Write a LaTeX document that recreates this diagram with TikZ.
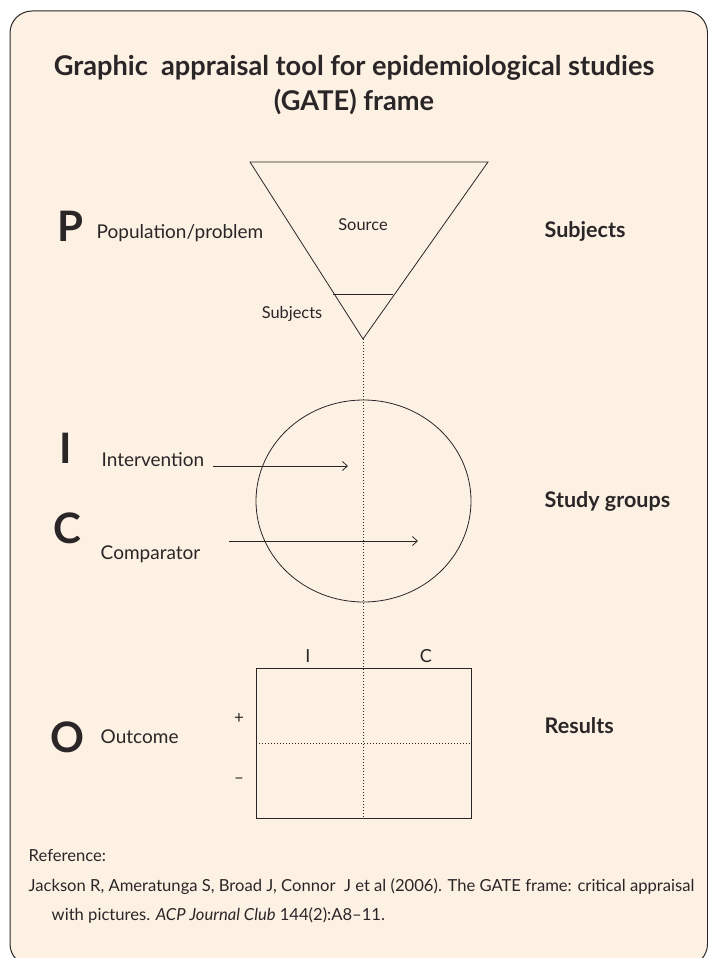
\documentclass[tikz,border=0pt]{standalone}
\usepackage{fontspec}
\setmainfont{Lato}
\usetikzlibrary{arrows.meta}
\definecolor{paper}{HTML}{FDF1E4}
\definecolor{ink}{HTML}{2A2627}

\begin{document}
\begin{tikzpicture}[x=1pt, y=-1pt, line width=0.8pt, draw=ink, text=ink,
    bigletter/.style={font=\fontsize{42}{42}\selectfont\bfseries, anchor=base},
    pico/.style={font=\fontsize{19}{22}\selectfont, anchor=base west},
    side/.style={font=\fontsize{21.5}{24}\selectfont\bfseries, anchor=base west},
    small/.style={font=\fontsize{16.4}{18}\selectfont, anchor=base},
    ref/.style={font=\fontsize{16.6}{19}\selectfont, anchor=base west},
    dots/.style={dash pattern=on 0.9pt off 2.1pt, line width=0.9pt},
    >={Straight Barb[length=5pt, width=9pt]}]
  \useasboundingbox (0,0) rectangle (707,958);
  % Frame
  \draw[fill=paper, line width=1pt, rounded corners=22pt] (10,11) rectangle (707.5,966);

  % Title
  \node[font=\fontsize{27.2}{30}\selectfont\bfseries, anchor=base] (title1) at (354,75)
    {Graphic\ \ appraisal tool for epidemiological studies};
  \node[font=\fontsize{27.2}{30}\selectfont\bfseries, anchor=base] (title2) at (354,110) {(GATE) frame};

  % Source funnel
  \coordinate (srcL) at (250,162);
  \coordinate (srcR) at (488,162);
  \coordinate (apex) at (363,339);
  \draw (srcL) -- (srcR) -- (apex) -- cycle;
  \draw (333,294) -- (393,294);
  \node[small] (source) at (363,230) {Source};
  \node[small] (subj) at (292,318) {Subjects};

  % Study groups
  \draw (363.5,501) ellipse [x radius=107.5, y radius=101];
  \coordinate (iStart) at (213,466);
  \coordinate (iEnd) at (348,466);
  \coordinate (cStart) at (229,541);
  \coordinate (cEnd) at (418,541);
  \draw[->] (iStart) -- (iEnd);
  \draw[->] (cStart) -- (cEnd);

  % Results table
  \draw (256,668) rectangle (471,818);
  \coordinate (tabBot) at (363,818);
  \draw[dots] (256,743.5) -- (471,743.5);
  \draw[dots] (apex) -- (tabBot);
  \node[small, font=\fontsize{18}{20}\selectfont] (colI) at (308,662) {I};
  \node[small, font=\fontsize{18}{20}\selectfont] (colC) at (426,662) {C};
  \node[font=\fontsize{17}{20}\selectfont] (plus) at (239,719) {+};
  \node[font=\fontsize{17}{20}\selectfont] (minus) at (239,781) {--};

  % PICO labels
  \node[bigletter] (letP) at (70,241) {P};
  \node[pico] (txtP) at (93,238) {Population/problem};
  \node[bigletter] (letI) at (66,463) {I};
  \node[pico] (txtI) at (98,466) {Intervention};
  \node[bigletter] (letC) at (67,543) {C};
  \node[pico] (txtC) at (97,559) {Comparator};
  \node[bigletter] (letO) at (67,752) {O};
  \node[pico] (txtO) at (97,743) {Outcome};

  % Right column
  \node[side] (rSubj) at (541,237) {Subjects};
  \node[side] (rGroups) at (541,507) {Study groups};
  \node[side] (rResults) at (541,733) {Results};

  % Reference
  \node[ref] (refHead) at (25,861) {Reference:};
  \node[ref] (refLine1) at (25,891)
    {Jackson R, Ameratunga S, Broad J, Connor\ \ J et al (2006). The GATE frame: critical appraisal};
  \node[ref] (refLine2) at (48,920) {with pictures. \textit{ACP Journal Club} 144(2):A8--11.};
\end{tikzpicture}
\end{document}
